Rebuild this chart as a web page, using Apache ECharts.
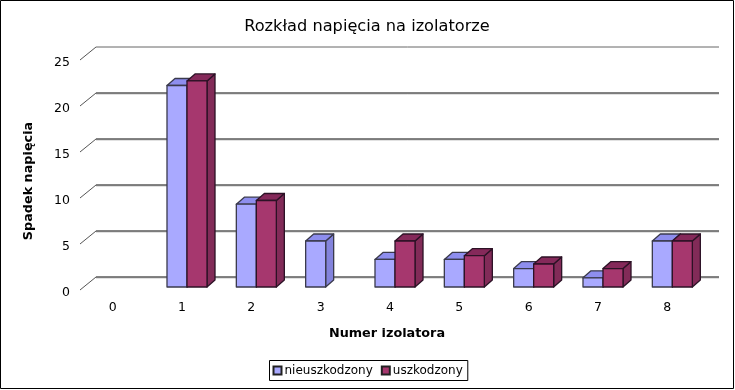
<!DOCTYPE html>
<html><head><meta charset="utf-8">
<style>html,body{margin:0;padding:0;background:#fff}#c{width:735px;height:390px}</style>
<script src="https://cdn.jsdelivr.net/npm/echarts@6/dist/echarts.min.js"></script>
</head><body><div id="c"></div>
<script>
const categories = ['0','1','2','3','4','5','6','7','8'];
const yTicks = [0,5,10,15,20,25];
const nieuszkodzony = [null,21.9,9,5,3,3,2,1,5];
const uszkodzony = [null,22.4,9.4,null,5,3.4,2.5,2,5];
const FONT = '"DejaVu Sans", sans-serif';
const DX = 8, DY = 7, LIFT = 2.5;

function gridItem(params, api) {
  const v = api.value(0);
  const cs = params.coordSys;
  const p = api.coord([0, v]);
  const x0 = cs.x + 2, y0 = p[1] - LIFT;
  const x1 = x0 + 16, y1 = y0 - 13;
  const x2 = cs.x + cs.width + 17;
  const top = v === 25;
  const children = [];
  if (!top) children.push({type:'line',shape:{x1:x1,y1:y1+1,x2:x2,y2:y1+1},style:{stroke:'#c4c4c4',lineWidth:1}});
  children.push({type:'line',shape:{x1:x1,y1:y1,x2:x2,y2:y1},style:{stroke:top?'#666':'#5a5a5a',lineWidth:top?1:1.4}});
  children.push({type:'line',shape:{x1:x0,y1:y0,x2:x1,y2:y1},style:{stroke:'#555',lineWidth:1}});
  return {type:'group',children:children};
}

function barRenderer(side, col) {
  return function(params, api) {
    const val = api.value(1);
    if (val == null || isNaN(val)) return null;
    const band = api.size([1,0])[0];
    const w = band * 0.2885;
    const c = api.coord([api.value(0), val]);
    const b = api.coord([api.value(0), 0]);
    const cx = c[0] + 5;
    const l = side < 0 ? cx - w : cx, r = l + w;
    const t = c[1] - 3 - LIFT, bt = b[1] - 3 - LIFT;
    const st = {stroke:col.edge,lineWidth:1.3,lineJoin:'round'};
    return {type:'group',children:[
      {type:'polygon',shape:{points:[[r,t],[r+DX,t-DY],[r+DX,bt-DY],[r,bt]]},style:Object.assign({fill:col.side},st)},
      {type:'polygon',shape:{points:[[l,t],[l+DX,t-DY],[r+DX,t-DY],[r,t]]},style:Object.assign({fill:col.top},st)},
      {type:'rect',shape:{x:l,y:t,width:w,height:bt-t},style:Object.assign({fill:col.front},st)}
    ]};
  };
}
const blue = {front:'#a9a9ff',top:'#8e8eee',side:'#8383dc',edge:'#3a3a4c'};
const red = {front:'#a6376e',top:'#85295a',side:'#822b58',edge:'#2c1226'};
const pairs = a => a.map((v,i)=>[i,v]);

const chart = echarts.init(document.getElementById('c'),null,{renderer:'canvas'});
chart.setOption({
  animation:false,
  backgroundColor:'#fff',
  textStyle:{fontFamily:FONT},
  title:{text:'Rozkład napięcia na izolatorze',left:362,textAlign:'center',top:14,
    textStyle:{fontFamily:FONT,fontSize:16.2,fontWeight:'normal',color:'#000'}},
  grid:{left:78,right:33,top:62.5,bottom:97.5,containLabel:false},
  xAxis:{type:'category',data:categories,
    name:'Numer izolatora',nameLocation:'middle',nameGap:34.5,
    nameTextStyle:{fontFamily:FONT,fontSize:12.8,fontWeight:'bold',color:'#000',padding:[0,6,0,0]},
    axisLine:{show:false},axisTick:{show:false},
    axisLabel:{color:'#000',fontFamily:FONT,fontSize:12.5,margin:8.5},splitLine:{show:false}},
  yAxis:{type:'value',min:0,max:25,interval:5,
    name:'Spadek napięcia',nameLocation:'middle',nameGap:43,nameRotate:90,
    nameTextStyle:{fontFamily:FONT,fontSize:12.8,fontWeight:'bold',color:'#000',padding:[0,7,0,0]},
    axisLine:{show:false},axisTick:{show:false},
    axisLabel:{color:'#000',fontFamily:FONT,fontSize:12.5,margin:8},splitLine:{show:false}},
  legend:{data:[{name:'nieuszkodzony',icon:'rect'},{name:'uszkodzony',icon:'rect'}],left:269.5,top:360.5,orient:'horizontal',
    itemWidth:8,itemHeight:8,itemGap:8,padding:[4,5,4,3],
    borderColor:'#000',borderWidth:1,backgroundColor:'#fff',borderRadius:0,
    textStyle:{fontFamily:FONT,fontSize:12,color:'#000',padding:[0,0,0,-2]}},
  graphic:[{type:'rect',silent:true,z:100,shape:{x:0.5,y:0.5,width:733,height:388},style:{fill:'none',stroke:'#000',lineWidth:1}}],
  series:[
    {type:'custom',name:'siatka',coordinateSystem:'cartesian2d',clip:false,silent:true,z:1,
      data:yTicks.map(v=>[v]),encode:{y:0},renderItem:gridItem},
    {type:'custom',name:'nieuszkodzony',coordinateSystem:'cartesian2d',clip:false,z:2,
      data:pairs(nieuszkodzony),encode:{x:0,y:1},renderItem:barRenderer(-1,blue),
      itemStyle:{color:blue.front,borderColor:'#222',borderWidth:1}},
    {type:'custom',name:'uszkodzony',coordinateSystem:'cartesian2d',clip:false,z:3,
      data:pairs(uszkodzony),encode:{x:0,y:1},renderItem:barRenderer(1,red),
      itemStyle:{color:red.front,borderColor:'#222',borderWidth:1}}
  ]
});
</script></body></html>
